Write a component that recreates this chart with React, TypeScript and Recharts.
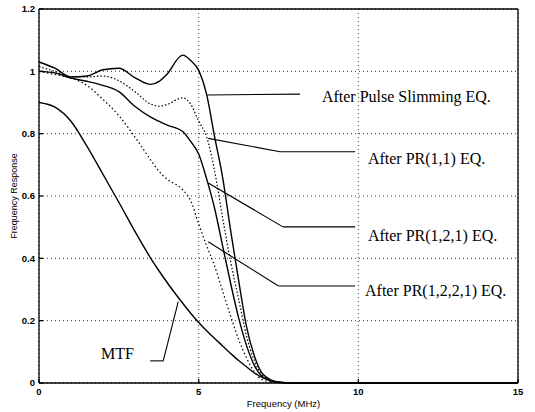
import React from "react";
import {
  LineChart,
  Line,
  XAxis,
  YAxis,
  CartesianGrid,
  ReferenceLine,
  ReferenceDot,
} from "recharts";

// frequency samples (MHz)
const freq = [0, 0.5, 1, 1.5, 2, 2.5, 3, 3.5, 3.75, 4, 4.5, 4.75, 5, 5.25, 5.5, 5.75, 6, 6.25, 6.5, 6.75, 7, 7.5, 8, 10, 15];

const pulseSlimming = [1.03, 1.01, 0.982, 0.985, 1.005, 1.01, 0.98, 0.958, 0.967, 0.99, 1.052, 1.035, 1.003, 0.925, 0.79, 0.66, 0.49, 0.33, 0.18, 0.085, 0.03, 0.003, 0, 0, 0];
const pr11 = [1.015, 1.0, 0.983, 0.982, 0.985, 0.97, 0.935, 0.895, 0.888, 0.893, 0.915, 0.895, 0.84, 0.79, 0.68, 0.53, 0.39, 0.27, 0.15, 0.07, 0.025, 0.003, 0, 0, 0];
const pr121 = [1.0, 0.995, 0.978, 0.968, 0.955, 0.935, 0.888, 0.853, 0.84, 0.828, 0.807, 0.775, 0.735, 0.655, 0.56, 0.44, 0.32, 0.21, 0.12, 0.055, 0.02, 0.002, 0, 0, 0];
const pr1221 = [1.0, 0.99, 0.978, 0.955, 0.91, 0.858, 0.79, 0.715, 0.68, 0.655, 0.62, 0.585, 0.51, 0.44, 0.375, 0.295, 0.215, 0.14, 0.08, 0.035, 0.01, 0.001, 0, 0, 0];
const mtf = [0.9, 0.885, 0.84, 0.76, 0.67, 0.58, 0.487, 0.4, 0.361, 0.324, 0.256, 0.224, 0.194, 0.168, 0.143, 0.119, 0.095, 0.072, 0.052, 0.032, 0.017, 0.002, 0, 0, 0];

const xTicks = [0, 5, 10, 15];
const yTicks = [0, 0.2, 0.4, 0.6, 0.8, 1, 1.2];

const data = freq.map((f, i) => ({
  f,
  ps: pulseSlimming[i],
  pr11: pr11[i],
  pr121: pr121[i],
  pr1221: pr1221[i],
  mtf: mtf[i],
}));

// annotation pointers (data coords) and their captions
const pointers = [
  { pts: [[5.27, 0.924], [8.17, 0.927]], text: "After Pulse Slimming EQ.", tx: 8.86, ty: 0.919 },
  { pts: [[5.3, 0.785], [7.55, 0.742], [9.9, 0.742]], text: "After PR(1,1) EQ.", tx: 10.3, ty: 0.721 },
  { pts: [[5.3, 0.642], [7.64, 0.501], [9.9, 0.501]], text: "After PR(1,2,1) EQ.", tx: 10.3, ty: 0.475 },
  { pts: [[5.3, 0.453], [7.5, 0.311], [9.9, 0.311]], text: "After PR(1,2,2,1) EQ.", tx: 10.21, ty: 0.298 },
  { pts: [[4.36, 0.261], [3.89, 0.071], [3.48, 0.071]], text: "MTF", tx: 2.46, ty: 0.095 },
];

const tickStyle = {
  fontFamily: "'Liberation Sans', Arial, sans-serif",
  fontSize: 9.5,
  fontWeight: "bold" as const,
  fill: "#000",
};

const serif = "'Liberation Serif', 'Times New Roman', serif";

export default function App() {
  return (
    <div style={{ position: "absolute", left: 0, top: 0, width: 535, height: 412, background: "#fff" }}>
      <LineChart
        width={535}
        height={412}
        data={data}
        margin={{ top: 9, right: 17, bottom: 0, left: 0 }}
      >
        <CartesianGrid stroke="#000" strokeDasharray="1 3" strokeWidth={0.8} />
        <XAxis
          dataKey="f"
          type="number"
          domain={[0, 15]}
          ticks={xTicks}
          height={29}
          stroke="#000"
          strokeWidth={1.3}
          tickSize={-4}
          tickMargin={9}
          tick={tickStyle}
          label={{
            value: "Frequency (MHz)",
            position: "insideBottom",
            offset: 5,
            dx: 5,
            style: { ...tickStyle, fontWeight: "normal", fontSize: 9.5 },
          }}
        />
        <YAxis
          type="number"
          domain={[0, 1.2]}
          ticks={yTicks}
          width={39}
          stroke="#000"
          strokeWidth={1.3}
          tickSize={-4}
          tickMargin={8}
          tick={tickStyle}
          label={{
            content: () => (
              <text
                transform="translate(15,196) rotate(-90)"
                textAnchor="middle"
                dominantBaseline="middle"
                style={{ ...tickStyle, fontSize: 9, fontWeight: "normal" }}
              >
                Frequency Response
              </text>
            ),
          }}
        />
        <ReferenceLine y={1.2} stroke="#000" strokeWidth={1.3} />
        <ReferenceLine x={15} stroke="#000" strokeWidth={1.3} />

        <Line type="monotone" dataKey="mtf" stroke="#000" strokeWidth={1.4} dot={false} isAnimationActive={false} />
        <Line type="monotone" dataKey="pr1221" stroke="#000" strokeWidth={1.2} strokeDasharray="1.5 2.5" dot={false} isAnimationActive={false} />
        <Line type="monotone" dataKey="pr121" stroke="#000" strokeWidth={1.4} dot={false} isAnimationActive={false} />
        <Line type="monotone" dataKey="pr11" stroke="#000" strokeWidth={1.2} strokeDasharray="1.5 2" dot={false} isAnimationActive={false} />
        <Line type="monotone" dataKey="ps" stroke="#000" strokeWidth={1.4} dot={false} isAnimationActive={false} />

        {pointers.map((p, k) =>
          p.pts.slice(1).map((pt, j) => (
            <ReferenceLine
              key={`seg-${k}-${j}`}
              segment={[
                { x: p.pts[j][0], y: p.pts[j][1] },
                { x: pt[0], y: pt[1] },
              ]}
              stroke="#000"
              strokeWidth={1.1}
              ifOverflow="visible"
            />
          ))
        )}
        {pointers.map((p, k) => (
          <ReferenceDot
            key={`txt-${k}`}
            x={p.tx}
            y={p.ty}
            r={0}
            stroke="none"
            fill="none"
            ifOverflow="visible"
            label={(props: any) => {
              const vb = props.viewBox || {};
              const cx = vb.x + (vb.width || 0) / 2;
              const cy = vb.y + (vb.height || 0) / 2;
              return (
                <text
                  x={cx}
                  y={cy}
                  dy="0.35em"
                  textAnchor={p.text === "MTF" ? "middle" : "start"}
                  fontFamily={serif}
                  fontSize={16}
                  fill="#000"
                >
                  {p.text}
                </text>
              );
            }}
          />
        ))}
      </LineChart>
    </div>
  );
}
